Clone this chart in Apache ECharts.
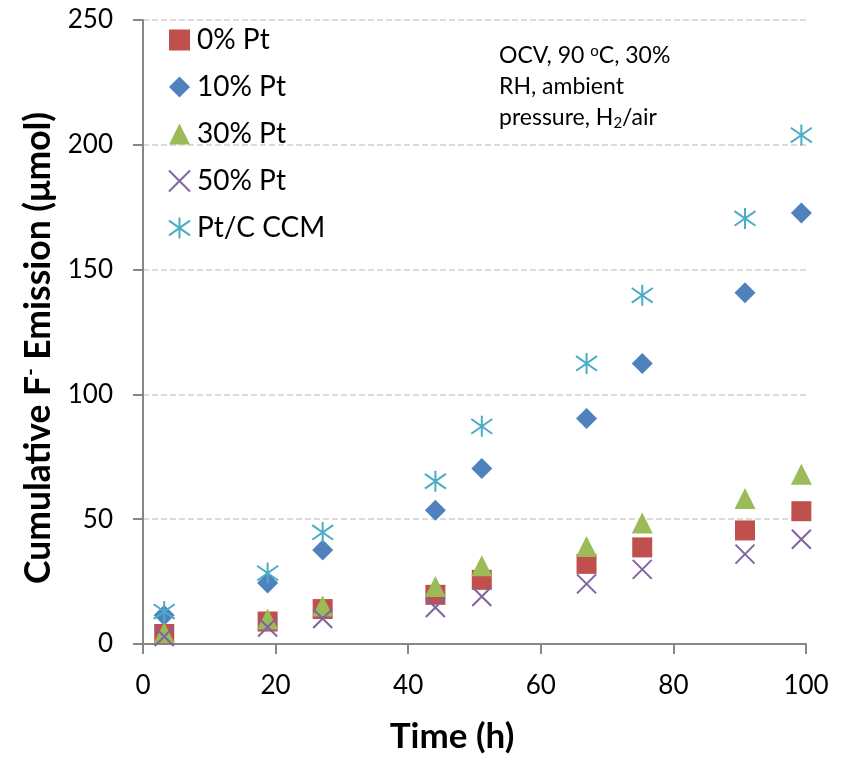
<!DOCTYPE html>
<html>
<head>
<meta charset="utf-8">
<script src="https://cdn.jsdelivr.net/npm/echarts@6/dist/echarts.min.js"></script>
<style>
html,body{margin:0;padding:0;background:#fff;}
#chart{width:846px;height:759px;}
</style>
</head>
<body>
<div id="chart"></div>
<script>
var seriesNames = ['0% Pt', '10% Pt', '30% Pt', '50% Pt', 'Pt/C CCM'];
var timeH = [3.2, 18.8, 27.1, 44.1, 51.1, 66.9, 75.3, 90.8, 99.3];
var pt0 = [4, 9, 14, 19.7, 25.7, 32.1, 38.7, 45.5, 53.2];
var pt10 = [11.5, 24.4, 37.7, 53.6, 70.3, 90.3, 112.4, 140.7, 172.7];
var pt30 = [4.5, 10, 15.2, 23, 31.4, 39.1, 48.5, 58.3, 68];
var pt50 = [3, 6.8, 10.2, 14.6, 19, 24.1, 29.9, 36, 42];
var ptcCCM = [13, 28.4, 44.7, 65.2, 87.2, 112.4, 139.7, 170.5, 203.9];
var xTicks = [0, 20, 40, 60, 80, 100];
var yTicks = [0, 50, 100, 150, 200, 250];

var FONT = 'Lato, "Open Sans", sans-serif';

function pairs(ys) {
  return timeH.map(function (t, i) { return [t, ys[i]]; });
}

var chart = echarts.init(document.getElementById('chart'), null, {renderer: 'canvas'});

var xPath = 'path://M0,0L10,10M10,0L0,10';
var starPath = 'path://M0,1.5L10,8.5M10,1.5L0,8.5M5,0L5,10';

var option = {
  backgroundColor: '#ffffff',
  animation: false,
  grid: {left: 143, right: 40, top: 20, bottom: 113},
  legend: {
    orient: 'vertical',
    left: 168,
    top: 26,
    padding: 0,
    itemWidth: 21,
    itemHeight: 21,
    itemGap: 19,
    data: seriesNames,
    textStyle: {fontFamily: FONT, fontSize: 28, color: '#000', padding: [0, 0, 0, 2]}
  },
  xAxis: {
    type: 'value',
    min: 0, max: 100, interval: 20,
    name: 'Time (h)',
    nameLocation: 'middle',
    nameGap: 75,
    nameTextStyle: {fontFamily: FONT, fontSize: 35, fontWeight: 'bold', color: '#000', padding: [0, 45, 0, 0]},
    axisLine: {show: true, onZero: false, lineStyle: {color: '#868686', width: 2}},
    axisTick: {show: true, length: 10, inside: false, lineStyle: {color: '#868686', width: 2}},
    axisLabel: {fontFamily: FONT, fontSize: 26, color: '#000', margin: 29,
      formatter: function (v) { return xTicks.indexOf(v) >= 0 ? String(v) : ''; }},
    splitLine: {show: false}
  },
  yAxis: {
    type: 'value',
    min: 0, max: 250, interval: 50,
    name: '{a|Cumulative F}{s|-}{a| Emission (μmol)}',
    nameLocation: 'middle',
    nameGap: 77,
    nameRotate: 90,
    nameTextStyle: {
      padding: [0, 32, 0, 0],
      rich: {
        a: {fontFamily: FONT, fontSize: 35.5, fontWeight: 'bold', color: '#000'},
        s: {fontFamily: FONT, fontSize: 20, fontWeight: 'bold', color: '#000', verticalAlign: 'top'}
      }
    },
    axisLine: {show: true, lineStyle: {color: '#868686', width: 2}},
    axisTick: {show: true, length: 10, inside: false, lineStyle: {color: '#868686', width: 2}},
    axisLabel: {fontFamily: FONT, fontSize: 26, color: '#000', margin: 30,
      formatter: function (v) { return yTicks.indexOf(v) >= 0 ? String(v) : ''; }},
    splitLine: {show: true, lineStyle: {color: '#d0d0d0', width: 1.5, type: [6, 3]}}
  },
  graphic: [{
    type: 'text',
    left: 499,
    top: 40,
    style: {
      text: '{n|OCV, 90 }{sup|o}{n|C, 30%}\n{n|RH, ambient}\n{n|pressure, H}{sub|2}{n|/air}',
      fontFamily: FONT,
      fill: '#000',
      rich: {
        n: {fontFamily: FONT, fontSize: 23, lineHeight: 31, fill: '#000'},
        sup: {fontFamily: FONT, fontSize: 15, lineHeight: 31, fill: '#000', verticalAlign: 'top', padding: [4, 0, 0, 0]},
        sub: {fontFamily: FONT, fontSize: 15, lineHeight: 31, fill: '#000', verticalAlign: 'bottom', padding: [0, 0, 2, 0]}
      }
    }
  }],
  series: [
    {
      name: seriesNames[0], type: 'scatter', symbol: 'rect', symbolSize: 20,
      itemStyle: {color: '#C0504D', opacity: 1}, data: pairs(pt0)
    },
    {
      name: seriesNames[1], type: 'scatter', symbol: 'diamond', symbolSize: 21,
      itemStyle: {color: '#4F81BD', opacity: 1}, data: pairs(pt10)
    },
    {
      name: seriesNames[2], type: 'scatter', symbol: 'triangle', symbolSize: 21,
      itemStyle: {color: '#9BBB59', opacity: 1}, data: pairs(pt30)
    },
    {
      name: seriesNames[3], type: 'scatter', symbol: xPath, symbolSize: 19, symbolKeepAspect: true,
      itemStyle: {color: 'rgba(0,0,0,0)', borderColor: '#8064A2', borderWidth: 2, opacity: 1}, data: pairs(pt50)
    },
    {
      name: seriesNames[4], type: 'scatter', symbol: starPath, symbolSize: 21, symbolKeepAspect: true,
      itemStyle: {color: 'rgba(0,0,0,0)', borderColor: '#4BACC6', borderWidth: 2, opacity: 1}, data: pairs(ptcCCM)
    }
  ]
};
chart.setOption(option);
</script>
</body>
</html>
